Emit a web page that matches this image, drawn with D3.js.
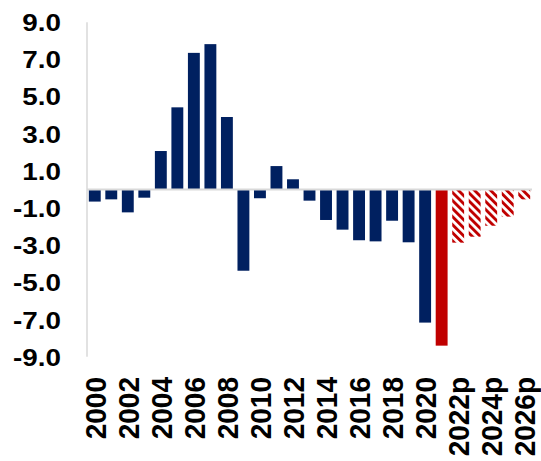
<!DOCTYPE html>
<html><head><meta charset="utf-8">
<script src="https://cdn.jsdelivr.net/npm/d3@7"></script>
<style>body{margin:0;background:#fff}svg{display:block}text{font-family:"Liberation Sans",Arial,sans-serif;font-weight:bold;fill:#000}</style>
</head><body>
<script>
const categories = ["2000","2001","2002","2003","2004","2005","2006","2007","2008","2009","2010","2011","2012","2013","2014","2015","2016","2017","2018","2019","2020","2021","2022p","2023p","2024p","2025p","2026p"];
const values = [-0.65,-0.53,-1.23,-0.44,2.07,4.42,7.35,7.82,3.9,-4.37,-0.47,1.26,0.55,-0.6,-1.64,-2.16,-2.73,-2.79,-1.68,-2.84,-7.16,-8.4,-2.86,-2.54,-1.95,-1.46,-0.53];
const kinds = ["a","a","a","a","a","a","a","a","a","a","a","a","a","a","a","a","a","a","a","a","a","r","p","p","p","p","p"];
const tickValues = [-9,-7,-5,-3,-1,1,3,5,7,9];
const xTickLabels = ["2000","2002","2004","2006","2008","2010","2012","2014","2016","2018","2020","2022p","2024p","2026p"];

const W = 541, H = 461;
const svg = d3.select("body").append("svg").attr("width", W).attr("height", H);
const defs = svg.append("defs");
const pat = defs.append("pattern").attr("id","hatch").attr("patternUnits","userSpaceOnUse")
  .attr("width",5.7).attr("height",5.7).attr("patternTransform","rotate(-45)");
pat.append("rect").attr("x",0).attr("y",0).attr("width",2.9).attr("height",5.7).attr("fill","#c00000");

const x = d3.scaleBand().domain(categories).range([86.5, 532.5]).paddingInner(0.28).paddingOuter(0.14);
const y = d3.scaleLinear().domain([-9, 9]).range([356.8, 22.2]);

const color = k => k === "a" ? "#002060" : (k === "r" ? "#c00000" : "url(#hatch)");

svg.append("g").selectAll("rect").data(categories).join("rect")
  .attr("x", d => x(d))
  .attr("width", x.bandwidth())
  .attr("y", (d,i) => y(Math.max(0, values[i])))
  .attr("height", (d,i) => Math.abs(y(values[i]) - y(0)))
  .attr("fill", (d,i) => color(kinds[i]));

// zero line
svg.append("line").attr("x1", 87).attr("x2", 532).attr("y1", y(0)).attr("y2", y(0))
  .attr("stroke", "#d9d9d9").attr("stroke-width", 2);
// y axis line
svg.append("line").attr("x1", 87).attr("x2", 87).attr("y1", y(9)).attr("y2", y(-9))
  .attr("stroke", "#d9d9d9").attr("stroke-width", 1.5);

// y tick labels
const fmt = d => d3.format(".1f")(d).replace("\u2212", "-");
const yAxis = d3.axisLeft(y).tickValues(tickValues).tickFormat(fmt).tickSize(0).tickPadding(0);
const yg = svg.append("g").attr("transform","translate(61,0)").call(yAxis);
yg.select(".domain").remove();
yg.selectAll("text").attr("font-size", 24).attr("dy", "0.35em").attr("x", 0)
  .attr("transform", "scale(1.16,1)");

// x tick labels
const xAxis = d3.axisBottom(x).tickValues(categories.filter(c => xTickLabels.includes(c))).tickSize(0).tickPadding(0);
const xg = svg.append("g").attr("transform","translate(0,377)").call(xAxis);
xg.select(".domain").remove();
xg.selectAll("text").attr("font-size", 28).attr("text-anchor","end")
  .attr("transform","rotate(-90) scale(1,1.08)").attr("x", 0).attr("y", 0).attr("dy","0.36em");
</script>
</body></html>
